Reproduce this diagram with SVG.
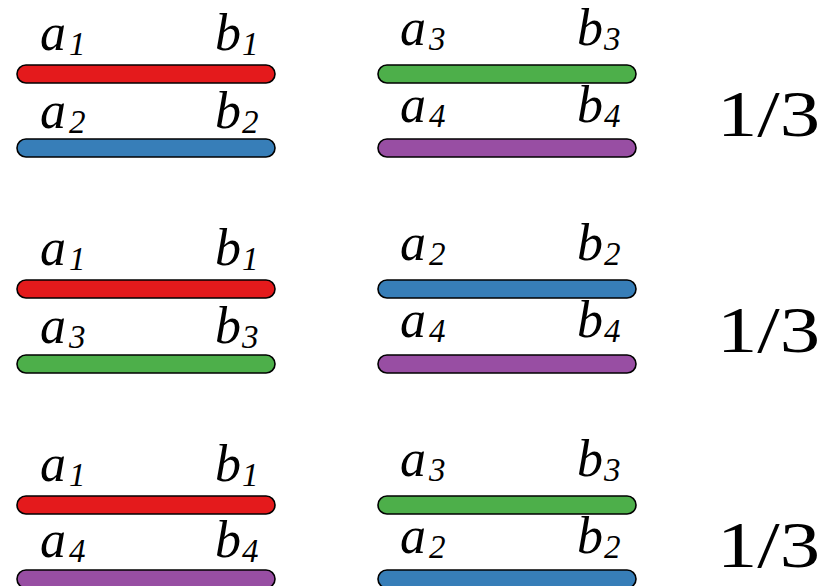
<svg xmlns="http://www.w3.org/2000/svg" xmlns:xlink="http://www.w3.org/1999/xlink" width="828" height="586" viewBox="0 0 828 586">
<defs>
<rect id="bar" x="0" y="0" width="258" height="18" rx="9" stroke="#000" stroke-width="1.6"/>
</defs>
<g id="row1">
<g id="n1"><use href="#bar" xlink:href="#bar" x="17" y="65" fill="#e41a1c"/><text font-family="Liberation Serif" font-style="italic" font-size="52" x="40" y="50">a<tspan font-size="33" dx="3" dy="5">1</tspan><tspan x="215" dy="-5">b</tspan><tspan font-size="33" dx="1" dy="5">1</tspan></text></g>
<g id="n2"><use href="#bar" xlink:href="#bar" x="17" y="139" fill="#377eb8"/><text font-family="Liberation Serif" font-style="italic" font-size="52" x="40" y="128">a<tspan font-size="33" dx="3" dy="5">2</tspan><tspan x="215" dy="-5">b</tspan><tspan font-size="33" dx="1" dy="5">2</tspan></text></g>
<g id="n3"><use href="#bar" xlink:href="#bar" x="378" y="65" fill="#4daf4a"/><text font-family="Liberation Serif" font-style="italic" font-size="52" x="400" y="45">a<tspan font-size="33" dx="3" dy="5">3</tspan><tspan x="577" dy="-5">b</tspan><tspan font-size="33" dx="1" dy="5">3</tspan></text></g>
<g id="n4"><use href="#bar" xlink:href="#bar" x="378" y="139" fill="#984ea3"/><text font-family="Liberation Serif" font-style="italic" font-size="52" x="400" y="122">a<tspan font-size="33" dx="3" dy="5">4</tspan><tspan x="577" dy="-5">b</tspan><tspan font-size="33" dx="1" dy="5">4</tspan></text></g>
</g>
<g id="row2" transform="translate(0,215)">
<g id="n5"><use href="#bar" xlink:href="#bar" x="17" y="65" fill="#e41a1c"/><text font-family="Liberation Serif" font-style="italic" font-size="52" x="40" y="50">a<tspan font-size="33" dx="3" dy="5">1</tspan><tspan x="215" dy="-5">b</tspan><tspan font-size="33" dx="1" dy="5">1</tspan></text></g>
<g id="n6"><use href="#bar" xlink:href="#bar" x="17" y="140" fill="#4daf4a"/><text font-family="Liberation Serif" font-style="italic" font-size="52" x="40" y="128">a<tspan font-size="33" dx="3" dy="5">3</tspan><tspan x="215" dy="-5">b</tspan><tspan font-size="33" dx="1" dy="5">3</tspan></text></g>
<g id="n7"><use href="#bar" xlink:href="#bar" x="378" y="65" fill="#377eb8"/><text font-family="Liberation Serif" font-style="italic" font-size="52" x="400" y="45">a<tspan font-size="33" dx="3" dy="5">2</tspan><tspan x="577" dy="-5">b</tspan><tspan font-size="33" dx="1" dy="5">2</tspan></text></g>
<g id="n8"><use href="#bar" xlink:href="#bar" x="378" y="140" fill="#984ea3"/><text font-family="Liberation Serif" font-style="italic" font-size="52" x="400" y="122">a<tspan font-size="33" dx="3" dy="5">4</tspan><tspan x="577" dy="-5">b</tspan><tspan font-size="33" dx="1" dy="5">4</tspan></text></g>
</g>
<g id="row3" transform="translate(0,431)">
<g id="n9"><use href="#bar" xlink:href="#bar" x="17" y="65" fill="#e41a1c"/><text font-family="Liberation Serif" font-style="italic" font-size="52" x="40" y="50">a<tspan font-size="33" dx="3" dy="5">1</tspan><tspan x="215" dy="-5">b</tspan><tspan font-size="33" dx="1" dy="5">1</tspan></text></g>
<g id="n10"><use href="#bar" xlink:href="#bar" x="17" y="139" fill="#984ea3"/><text font-family="Liberation Serif" font-style="italic" font-size="52" x="40" y="126">a<tspan font-size="33" dx="3" dy="5">4</tspan><tspan x="215" dy="-5">b</tspan><tspan font-size="33" dx="1" dy="5">4</tspan></text></g>
<g id="n11"><use href="#bar" xlink:href="#bar" x="378" y="65" fill="#4daf4a"/><text font-family="Liberation Serif" font-style="italic" font-size="52" x="400" y="45">a<tspan font-size="33" dx="3" dy="5">3</tspan><tspan x="577" dy="-5">b</tspan><tspan font-size="33" dx="1" dy="5">3</tspan></text></g>
<g id="n12"><use href="#bar" xlink:href="#bar" x="378" y="139" fill="#377eb8"/><text font-family="Liberation Serif" font-style="italic" font-size="52" x="400" y="122">a<tspan font-size="33" dx="3" dy="5">2</tspan><tspan x="577" dy="-5">b</tspan><tspan font-size="33" dx="1" dy="5">2</tspan></text></g>
</g>
<text id="p1" font-family="Liberation Serif" font-size="66" x="717" y="136" textLength="103" lengthAdjust="spacingAndGlyphs">1/3</text>
<text id="p2" font-family="Liberation Serif" font-size="66" x="717" y="352" textLength="103" lengthAdjust="spacingAndGlyphs">1/3</text>
<text id="p3" font-family="Liberation Serif" font-size="66" x="717" y="567" textLength="103" lengthAdjust="spacingAndGlyphs">1/3</text>
</svg>
